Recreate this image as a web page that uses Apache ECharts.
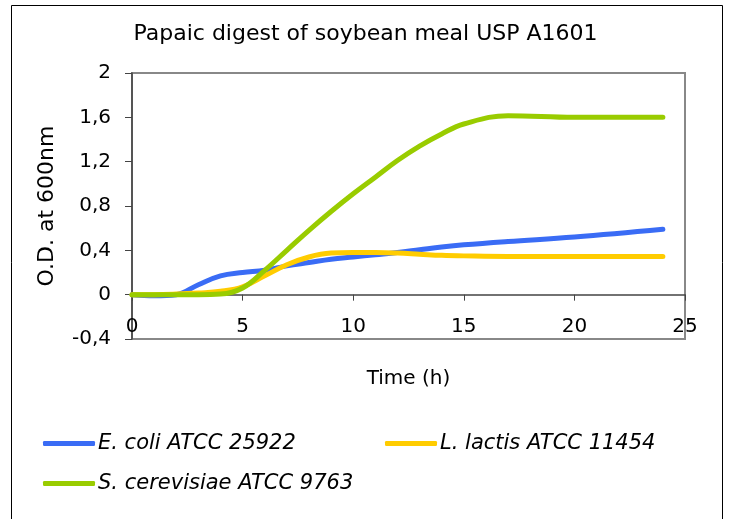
<!DOCTYPE html>
<html>
<head>
<meta charset="utf-8">
<script src="https://cdn.jsdelivr.net/npm/echarts@6/dist/echarts.min.js"></script>
<style>
  html, body { margin: 0; padding: 0; background: #fff; }
  #chart { width: 731px; height: 519px; }
</style>
</head>
<body>
<div id="chart"></div>
<script>
// time points (h)
const hours = [0, 1, 2, 3, 4, 5, 6, 7, 8, 9, 10, 11, 12, 13, 14, 15, 17, 20, 24];

// O.D. at 600nm
const ecoli = [0, -0.01, 0, 0.09, 0.17, 0.2, 0.22, 0.26, 0.29, 0.32, 0.34, 0.36, 0.38, 0.405, 0.43, 0.45, 0.48, 0.52, 0.59];
const lactis = [0, 0, 0.005, 0.015, 0.03, 0.07, 0.17, 0.27, 0.34, 0.375, 0.38, 0.38, 0.375, 0.365, 0.355, 0.35, 0.345, 0.345, 0.345];
const cerevisiae = [0, 0, 0, 0, 0.005, 0.06, 0.22, 0.4, 0.58, 0.75, 0.91, 1.06, 1.21, 1.34, 1.45, 1.54, 1.615, 1.6, 1.6];

const names = ["E. coli ATCC 25922", "L. lactis ATCC 11454", "S. cerevisiae ATCC 9763"];
const colors = ["#3a6cf5", "#ffcc00", "#99cc00"];

const font = "DejaVu Sans";
const chart = echarts.init(document.getElementById("chart"));

const pairs = (vals) => hours.map((h, i) => [h, vals[i]]);

const legendItem = (name, left, top) => ({
  data: [name],
  left: left,
  top: top,
  padding: 0,
  icon: "roundRect",
  itemWidth: 52,
  itemHeight: 5,
  itemGap: 0,
  textStyle: { fontFamily: font, fontSize: 21, fontStyle: "italic", color: "#000", padding: [0, 0, 0, -2] },
});

chart.setOption({
  animation: false,
  color: colors,
  graphic: [
    {
      type: "rect",
      shape: { x: 11.5, y: 5.5, width: 711, height: 520 },
      style: { fill: null, stroke: "#000", lineWidth: 1 },
      silent: true,
    },
  ],
  title: {
    text: "Papaic digest of soybean meal USP A1601",
    left: "center",
    top: 23,
    padding: 0,
    textStyle: { fontFamily: font, fontSize: 22, fontWeight: "normal", color: "#000" },
  },
  legend: [
    legendItem(names[0], 43, 433),
    legendItem(names[1], 385, 433),
    legendItem(names[2], 43, 473),
  ],
  grid: {
    left: 132,
    right: 46,
    top: 73,
    bottom: 180,
    show: true,
    borderColor: "#888",
    borderWidth: 2,
  },
  xAxis: {
    type: "value",
    min: 0,
    max: 25,
    interval: 5,
    name: "Time (h)",
    nameLocation: "middle",
    nameGap: 30,
    nameTextStyle: { fontFamily: font, fontSize: 20, color: "#000" },
    axisLine: { onZero: true, lineStyle: { color: "#444", width: 1.5 } },
    axisTick: { length: 6, lineStyle: { color: "#444" } },
    axisLabel: { fontFamily: font, fontSize: 20, color: "#000", margin: -22 },
    splitLine: { show: false },
  },
  yAxis: {
    type: "value",
    min: -0.4,
    max: 2,
    interval: 0.4,
    name: "O.D. at 600nm",
    nameLocation: "middle",
    nameGap: 74,
    nameTextStyle: { fontFamily: font, fontSize: 22, color: "#000" },
    axisLine: { show: true, onZero: false, lineStyle: { color: "#444", width: 1.5 } },
    axisTick: { show: true, length: 7, lineStyle: { color: "#444" } },
    axisLabel: {
      fontFamily: font,
      fontSize: 20,
      color: "#000",
      margin: 21,
      formatter: (v) => String(Math.round(v * 10) / 10).replace(".", ","),
    },
    splitLine: { show: false },
  },
  series: [
    { name: names[0], type: "line", data: pairs(ecoli), smooth: 0.4, showSymbol: false, lineStyle: { width: 5, cap: "round" } },
    { name: names[1], type: "line", data: pairs(lactis), smooth: 0.4, showSymbol: false, lineStyle: { width: 5, cap: "round" } },
    { name: names[2], type: "line", data: pairs(cerevisiae), smooth: 0.4, showSymbol: false, lineStyle: { width: 5, cap: "round" } },
  ],
});
</script>
</body>
</html>
